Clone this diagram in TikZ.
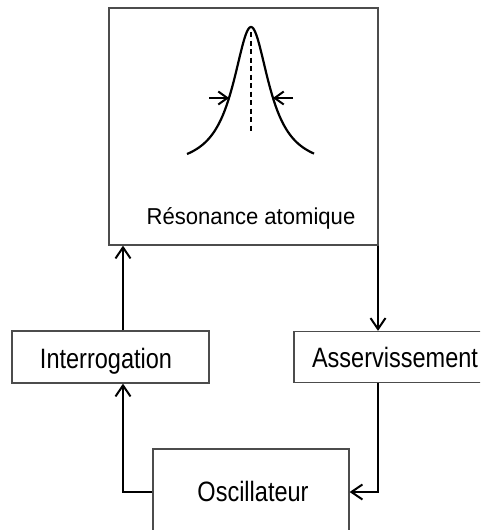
\documentclass[tikz,border=0pt]{standalone}
\usepackage{fontspec}
\setmainfont{Liberation Sans}
\newfontfamily\labfont{Liberation Sans}[FakeStretch=0.84]
\newfontfamily\topfont{Liberation Sans}[FakeStretch=0.96]
\usetikzlibrary{arrows.meta,calc}
\begin{document}
\begin{tikzpicture}[x=1pt,y=-1pt,
  box/.style={draw=black!70, line width=1.3pt, inner sep=0pt, fill=none},
  lab/.style={anchor=base, inner sep=0pt, font=\labfont\fontsize{28}{30}\selectfont},
  toplab/.style={anchor=base, inner sep=0pt, font=\topfont\fontsize{23}{26}\selectfont},
  arr/.style={line width=2pt, -{Straight Barb[length=11pt,width=15pt,line width=2pt]}},
  smallarr/.style={line width=2pt, -{Straight Barb[length=9pt,width=13pt,line width=2pt]}},
  curve/.style={line width=2.2pt},
  mid/.style={line width=2pt, dash pattern=on 5pt off 3.5pt}]
\useasboundingbox (0,0) rectangle (480,530);
\clip (0,0) rectangle (480,530);
\fill[white] (0,0) rectangle (480,530);
% boxes
\node[box, minimum width=269pt, minimum height=237pt] (res) at (243.5,126.5) {};
\node[box, minimum width=197pt, minimum height=52pt] (inter) at (110.5,357) {};
\node[box, minimum width=196pt, minimum height=51pt] (asserv) at (392,357) {};
\node[box, minimum width=196pt, minimum height=86pt] (osc) at (251,492) {};
% labels
\node[toplab] (tres) at (251,224) {Résonance atomique};
\node[lab] (tinter) at (106,368) {Interrogation};
\node[lab] (tasserv) at (395,367) {Asservissement};
\node[lab] (tosc) at (253,501) {Oscillateur};
% resonance curve
\draw[curve] plot[domain=-64:63, samples=150, smooth] ({251+\x},{169-142/(1+(\x/22)^2)});
\coordinate (ptop) at (251,32);
\coordinate (pbot) at (251,133);
\draw[mid] (ptop) -- (pbot);
\coordinate (la) at (209,98);
\coordinate (lb) at (229,98);
\coordinate (ra) at (293,98);
\coordinate (rb) at (273,98);
\draw[smallarr] (la) -- (lb);
\draw[smallarr] (ra) -- (rb);
% connectors
\coordinate (xl) at (123,0);
\coordinate (xr) at (378,0);
\draw[arr] (inter.north -| xl) -- (res.south -| xl);
\draw[arr] (res.south -| xr) -- (asserv.north -| xr);
\draw[arr] (asserv.south -| xr) |- (osc.east);
\draw[arr] (osc.west) -| (inter.south -| xl);
\end{tikzpicture}
\end{document}
